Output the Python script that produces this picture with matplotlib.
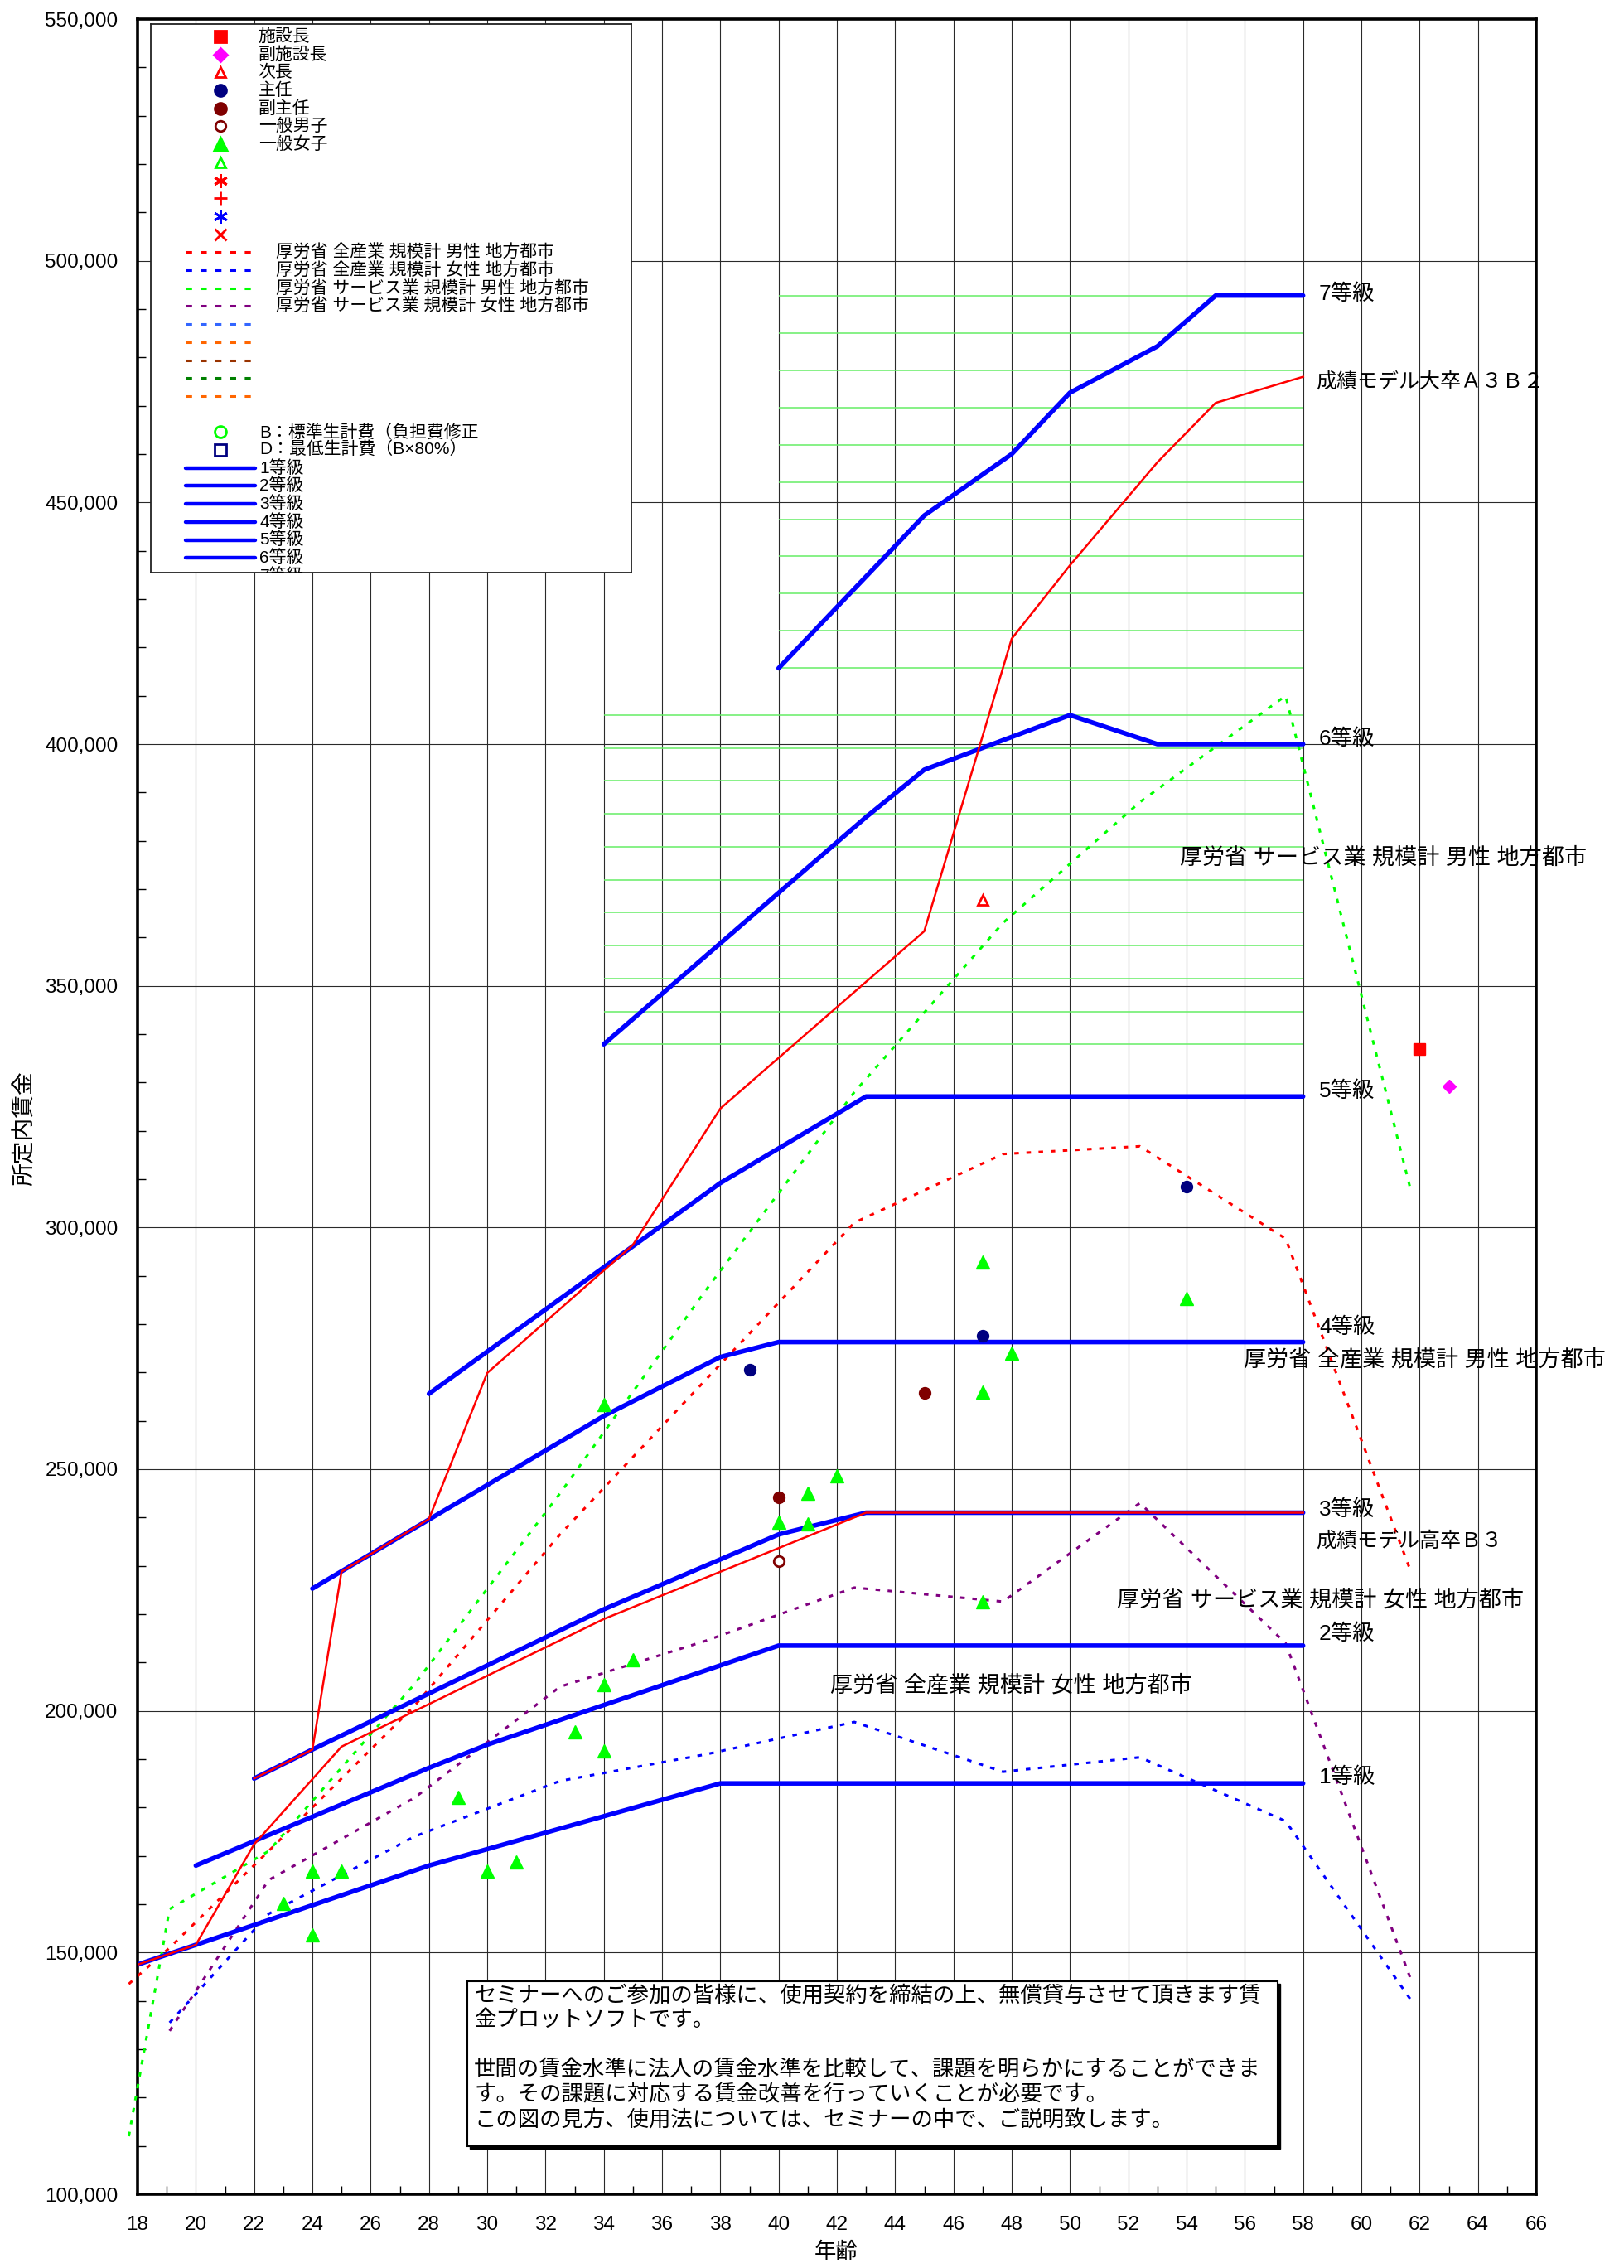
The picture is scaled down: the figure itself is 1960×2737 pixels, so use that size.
import numpy as np
import matplotlib
matplotlib.use("Agg")
import matplotlib.pyplot as plt
from matplotlib.ticker import MultipleLocator, FuncFormatter
from matplotlib.patches import Rectangle

# ---------------- data ----------------
GRADE_NAMES = ["1等級", "2等級", "3等級", "4等級", "5等級", "6等級", "7等級"]
G1_AGE = [18, 28, 38, 58]
G1_VAL = [147500, 168000, 185000, 185000]
G2_AGE = [20, 28, 30, 40, 58]
G2_VAL = [168000, 188200, 193000, 213500, 213500]
G3_AGE = [22, 24, 34, 40, 43, 58]
G3_VAL = [186000, 192000, 221000, 236500, 241000, 241000]
G4_AGE = [24, 34, 38, 40, 58]
G4_VAL = [225300, 261000, 273200, 276300, 276300]
G5_AGE = [28, 38, 43, 58]
G5_VAL = [265600, 309200, 327100, 327100]
G6_AGE = [34, 43, 45, 50, 53, 58]
G6_VAL = [337900, 384900, 394700, 406000, 400000, 400000]
G7_AGE = [40, 45, 48, 50, 53, 55, 58]
G7_VAL = [415700, 447300, 460000, 472700, 482300, 492800, 492800]
HATCHED_GRADES = [6, 7]
HATCH_COUNT = 11

MODEL_DAI_AGE = [22, 24, 25, 28, 30, 35, 38, 45, 48, 50, 53, 55, 58]
MODEL_DAI_VAL = [186000, 192000, 228800, 239700, 269900, 296400, 324600,
                 361300, 421800, 437000, 458300, 470600, 476000]
MODEL_KOU_AGE = [18, 20, 22, 25, 34, 43, 58]
MODEL_KOU_VAL = [147500, 151600, 172400, 192600, 219000, 241000, 241000]

CENSUS_AGE = [17.7, 19.1, 22.5, 27.5, 32.5, 37.5, 42.6, 47.7, 52.4, 57.4, 61.7]
ALLIND_MALE = [143500, 151000, 171000, 201000, 236500, 268500, 301000,
               315200, 316800, 297700, 228800]
ALLIND_FEMALE = [np.nan, 135500, 158000, 174000, 185500, 191000, 197700,
                 187400, 190400, 177200, 140200]
SERV_MALE = [112000, 159000, 171000, 205500, 245000, 287000, 328000,
             363000, 388000, 410000, 307600]
SERV_FEMALE = [np.nan, 133800, 165000, 182000, 205000, 214500, 225500,
               222600, 243000, 214000, 144400]

CHIEF_AGE, CHIEF_VAL = [62], [337000]            # 施設長
VICE_AGE, VICE_VAL = [63], [329200]              # 副施設長
JICHO_AGE, JICHO_VAL = [47], [367800]            # 次長
SHUNIN_AGE = [39, 47, 54]
SHUNIN_VAL = [270500, 277600, 308500]            # 主任
FUKU_AGE = [40, 45]
FUKU_VAL = [244200, 265700]                      # 副主任
MALE_AGE, MALE_VAL = [40], [231000]              # 一般男子
FEMALE_AGE = [23, 24, 24, 25, 29, 30, 31, 33, 34, 34, 34, 35, 40, 41, 41,
              42, 47, 47, 47, 48, 54]
FEMALE_VAL = [160100, 166900, 153600, 166800, 182100, 166900, 168700,
              195600, 191800, 205400, 263400, 210500, 239100, 245100,
              238700, 248700, 292900, 266000, 222600, 274000, 285300]

NOTE_LINES = [
    "セミナーへのご参加の皆様に、使用契約を締結の上、無償貸与させて頂きます賃",
    "金プロットソフトです。",
    "",
    "世間の賃金水準に法人の賃金水準を比較して、課題を明らかにすることができま",
    "す。その課題に対応する賃金改善を行っていくことが必要です。",
    "この図の見方、使用法については、セミナーの中で、ご説明致します。",
]

# ---------------- figure ----------------
plt.rcParams["font.family"] = ["Liberation Sans", "Noto Sans CJK JP", "DejaVu Sans"]
W, H = 1960, 2737
fig = plt.figure(figsize=(W / 100, H / 100), dpi=100)
fig.patch.set_facecolor("white")

L, R, T, B = 166, 1854, 23, 2648
ax = fig.add_axes([L / W, 1 - B / H, (R - L) / W, (B - T) / H])
ax.set_xlim(18, 66)
ax.set_ylim(100000, 550000)
ax.xaxis.set_major_locator(MultipleLocator(2))
ax.xaxis.set_minor_locator(MultipleLocator(1))
ax.yaxis.set_major_locator(MultipleLocator(50000))
ax.yaxis.set_minor_locator(MultipleLocator(10000))
ax.yaxis.set_major_formatter(FuncFormatter(lambda v, p: f"{int(round(v)):,}"))
ax.grid(which="major", color="#2a2a2a", lw=0.8)
ax.set_axisbelow(True)
ax.tick_params(which="both", direction="in", top=False, right=False)
ax.tick_params(which="major", length=0, labelsize=17.5)
ax.tick_params(axis="y", which="major", pad=17)
ax.tick_params(axis="x", which="major", pad=19)
ax.tick_params(which="minor", length=7, width=1)
for s in ax.spines.values():
    s.set_linewidth(2.6)
    s.set_color("black")

BLUE = "#0000ff"
grades = [(G1_AGE, G1_VAL), (G2_AGE, G2_VAL), (G3_AGE, G3_VAL), (G4_AGE, G4_VAL),
          (G5_AGE, G5_VAL), (G6_AGE, G6_VAL), (G7_AGE, G7_VAL)]

# hatched range bands
for g in HATCHED_GRADES:
    a, v = grades[g - 1]
    levels = np.linspace(min(v), max(v), HATCH_COUNT)
    ax.hlines(levels, a[0], a[-1], color="#66ee66", lw=1.1, zorder=2)

dash = (0, (1.8, 3.0))
for vals, col in [(ALLIND_MALE, "#ff0000"), (ALLIND_FEMALE, "#0000ff"),
                  (SERV_MALE, "#00ff00"), (SERV_FEMALE, "#800080")]:
    ax.plot(CENSUS_AGE, vals, color=col, lw=2.2, linestyle=dash, zorder=4, clip_on=False)

for a, v in grades:
    ax.plot(a, v, color=BLUE, lw=4.0, solid_capstyle="round", zorder=5)

ax.plot(MODEL_DAI_AGE, MODEL_DAI_VAL, color="#ff0000", lw=1.8, zorder=6)
ax.plot(MODEL_KOU_AGE, MODEL_KOU_VAL, color="#ff0000", lw=1.8, zorder=6)

ax.plot(CHIEF_AGE, CHIEF_VAL, "s", color="#ff0000", ms=10, zorder=7)
ax.plot(VICE_AGE, VICE_VAL, "D", color="#ff00ff", ms=8, zorder=7)
ax.plot(JICHO_AGE, JICHO_VAL, "^", mfc="white", mec="#ff0000", mew=2, ms=9, zorder=7)
ax.plot(SHUNIN_AGE, SHUNIN_VAL, "o", color="#000080", ms=10, zorder=7, ls="none")
ax.plot(FUKU_AGE, FUKU_VAL, "o", color="#800000", ms=10, zorder=7, ls="none")
ax.plot(MALE_AGE, MALE_VAL, "o", mfc="white", mec="#800000", mew=2, ms=9, zorder=7)
ax.plot(FEMALE_AGE, FEMALE_VAL, "^", color="#00ff00", ms=11, zorder=7, ls="none")

# right-hand labels (text, age, value, size)
RIGHT_LABELS = [
    ("7等級", 58.55, 493200, 19),
    ("成績モデル大卒Ａ３Ｂ２", 58.43, 474900, 18),
    ("6等級", 58.55, 401000, 19),
    ("厚労省 サービス業 規模計 男性 地方都市", 53.77, 376500, 19.5),
    ("5等級", 58.55, 328300, 19),
    ("4等級", 58.55, 279300, 19),
    ("厚労省 全産業 規模計 男性 地方都市", 55.96, 272600, 19.5),
    ("3等級", 58.55, 241600, 19),
    ("成績モデル高卒Ｂ３", 58.43, 235200, 18),
    ("厚労省 サービス業 規模計 女性 地方都市", 51.61, 222900, 19.5),
    ("2等級", 58.55, 216000, 19),
    ("厚労省 全産業 規模計 女性 地方都市", 41.77, 205200, 19.5),
    ("1等級", 58.55, 186200, 19),
]
for txt, xa, yv, fs in RIGHT_LABELS:
    ax.text(xa, yv, txt, fontsize=fs, ha="left", va="center", zorder=8, clip_on=False)

# axis titles
fig.text(31 / W, 1 - 1362 / H, "所定内賃金", rotation=90, ha="center", va="center", fontsize=20)
fig.text(1009 / W, 1 - 2718 / H, "年齢", ha="center", va="center", fontsize=19)

# note box
bx0, by0, bx1, by1 = 564, 2391, 1542, 2590
fig.patches.append(Rectangle((bx0 / W + 3 / W, 1 - (by1 + 3) / H), (bx1 - bx0) / W, (by1 - by0) / H,
                             transform=fig.transFigure, fc="black", ec="black", zorder=9))
fig.patches.append(Rectangle((bx0 / W, 1 - by1 / H), (bx1 - bx0) / W, (by1 - by0) / H,
                             transform=fig.transFigure, fc="white", ec="black", lw=1.5, zorder=10))
for i, line in enumerate(NOTE_LINES):
    if line:
        fig.text(572 / W, 1 - (2408 + 30 * i) / H, line, fontsize=19, ha="left", va="center", zorder=11)

# legend box (pixel coordinates)
lx0, ly0, lx1, ly1 = 182, 29, 762, 691
lax = fig.add_axes([lx0 / W, 1 - ly1 / H, (lx1 - lx0) / W, (ly1 - ly0) / H])
lax.set_xlim(lx0, lx1)
lax.set_ylim(ly1, ly0)
lax.set_xticks([])
lax.set_yticks([])
lax.set_facecolor("white")
for s in lax.spines.values():
    s.set_linewidth(1.3)
    s.set_color("#222222")


def row(i):
    return 43.9 + 21.7 * i


MX, TX = 265.7, 311.6
LX0, LX1 = 223.6, 307.8
FS = 15
marker_items = [
    dict(marker="s", mfc="#ff0000", mec="#ff0000", ms=10, label="施設長"),
    dict(marker="D", mfc="#ff00ff", mec="#ff00ff", ms=8, label="副施設長"),
    dict(marker="^", mfc="white", mec="#ff0000", ms=9, label="次長"),
    dict(marker="o", mfc="#000080", mec="#000080", ms=10, label="主任"),
    dict(marker="o", mfc="#800000", mec="#800000", ms=10, label="副主任"),
    dict(marker="o", mfc="white", mec="#800000", ms=9, label="一般男子"),
    dict(marker="^", mfc="#00ff00", mec="#00ff00", ms=11, label="一般女子"),
    dict(marker="^", mfc="white", mec="#00ff00", ms=9, label=""),
    dict(marker=(6, 2, 0), mfc="#ff0000", mec="#ff0000", ms=12, label=""),
    dict(marker="+", mfc="#ff0000", mec="#ff0000", ms=12, label=""),
    dict(marker=(6, 2, 0), mfc="#0000ff", mec="#0000ff", ms=12, label=""),
    dict(marker="x", mfc="#ff0000", mec="#ff0000", ms=10, label=""),
]
for i, it in enumerate(marker_items):
    lax.plot([MX], [row(i)], marker=it["marker"], mfc=it["mfc"], mec=it["mec"],
             ms=it["ms"], mew=2, ls="none")
    if it["label"]:
        lax.text(TX, row(i), it["label"], fontsize=FS, va="center", ha="left", clip_on=True)

dot_items = [
    ("#ff0000", "厚労省 全産業 規模計 男性 地方都市"),
    ("#0000ff", "厚労省 全産業 規模計 女性 地方都市"),
    ("#00ff00", "厚労省 サービス業 規模計 男性 地方都市"),
    ("#800080", "厚労省 サービス業 規模計 女性 地方都市"),
    ("#3366ff", ""),
    ("#ff6600", ""),
    ("#993300", ""),
    ("#008000", ""),
    ("#ff6600", ""),
]
for j, (c, lab) in enumerate(dot_items):
    y = row(12 + j)
    lax.plot([LX0, LX1], [y, y], color=c, lw=2.2, linestyle=(0, (2.4, 3.4)))
    if lab:
        lax.text(332.6, y, lab, fontsize=FS, va="center", ha="left", clip_on=True)

lax.plot([MX], [row(22)], marker="o", mfc="white", mec="#00ff00", ms=10, mew=2)
lax.text(313.5, row(22), "B：標準生計費（負担費修正", fontsize=FS, va="center", ha="left", clip_on=True)
lax.plot([MX], [row(23)], marker="s", mfc="white", mec="#000080", ms=10, mew=2)
lax.text(313.5, row(23), "D：最低生計費（B×80%）", fontsize=FS, va="center", ha="left", clip_on=True)
for k, name in enumerate(GRADE_NAMES):
    y = row(24 + k)
    lax.plot([LX0, LX1], [y, y], color=BLUE, lw=3.2, solid_capstyle="round")
    lax.text(313.5, y, name, fontsize=FS, va="center", ha="left", clip_on=True)

fig.savefig("out.png", dpi=100, facecolor="white")
